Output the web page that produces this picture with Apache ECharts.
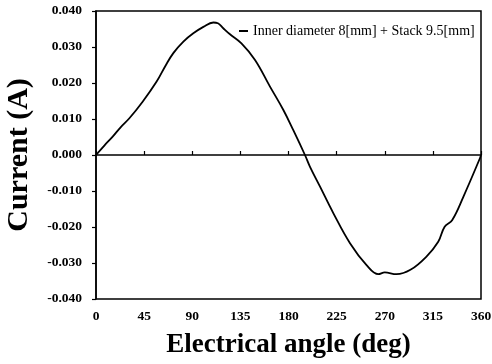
<!DOCTYPE html>
<html>
<head>
<meta charset="utf-8">
<script src="https://cdn.jsdelivr.net/npm/echarts@6/dist/echarts.min.js"></script>
<style>
  html, body { margin: 0; padding: 0; background: #fff; }
  #chart { width: 492px; height: 364px; }
</style>
</head>
<body>
<div id="chart"></div>
<script>
// electrical angle (deg) and current (A)
var angles = [0, 8, 15.6, 23, 31.2, 43.6, 56.7, 65, 72.3, 81.7, 91, 100.4, 109.7, 114, 119, 125, 136,
              148.7, 162.7, 175.2, 184.5, 195.4, 200, 209.5, 222, 237.5, 253, 264, 270, 281, 294,
              309, 320, 326, 333, 343.5, 359, 360];
var current = [0, 0.0027, 0.0051, 0.0077, 0.0102, 0.0148, 0.0204, 0.0248, 0.0283, 0.0315, 0.0338, 0.0356,
               0.0368, 0.0366, 0.0352, 0.0336, 0.0310, 0.0264, 0.0190, 0.0125, 0.0069, 0, -0.0032,
               -0.0088, -0.0162, -0.0245, -0.0306, -0.0331, -0.0326, -0.0331, -0.0319, -0.0282,
               -0.0241, -0.0199, -0.0181, -0.0116, -0.0009, 0];
var seriesName = 'Inner diameter 8[mm] + Stack 9.5[mm]';
var xTitle = 'Electrical angle (deg)';
var yTitle = 'Current (A)';

var serif = '"Liberation Serif", "Times New Roman", serif';

var points = angles.map(function (a, i) { return [a, current[i]]; });

var myChart = echarts.init(document.getElementById('chart'));
var option = {
    animation: false,
    legend: {
        data: [seriesName],
        left: 239,
        top: 24,
        padding: 0,
        icon: 'rect',
        itemWidth: 9,
        itemHeight: 2,
        textStyle: { fontFamily: serif, fontSize: 14, color: '#000' }
    },
    grid: {
        left: 96,
        right: 11,
        top: 11,
        bottom: 65,
        outerBoundsMode: 'none',
        containLabel: false,
        show: true,
        borderColor: '#000',
        borderWidth: 1.5
    },
    xAxis: [
        {
            type: 'value',
            position: 'bottom',
            min: 0,
            max: 360,
            interval: 45,
            name: xTitle,
            nameLocation: 'middle',
            nameGap: 33,
            nameTextStyle: { fontFamily: serif, fontSize: 27, fontWeight: 'bold', color: '#000' },
            axisLine: { show: false, onZero: false },
            axisTick: { show: false },
            splitLine: { show: false },
            axisLabel: { fontFamily: serif, fontSize: 13.5, fontWeight: 'bold', color: '#000', margin: 11 }
        },
        {
            type: 'value',
            position: 'bottom',
            min: 0,
            max: 360,
            interval: 45,
            axisLine: { show: true, onZero: true, onZeroAxisIndex: 0, lineStyle: { color: '#000', width: 1.5 } },
            axisTick: { show: true, inside: true, length: 4, lineStyle: { color: '#000', width: 1.2 } },
            axisLabel: { show: false },
            splitLine: { show: false }
        }
    ],
    yAxis: {
        type: 'value',
        min: -0.04,
        max: 0.04,
        interval: 0.01,
        name: yTitle,
        nameLocation: 'middle',
        nameGap: 62,
        nameTextStyle: { fontFamily: serif, fontSize: 30, fontWeight: 'bold', color: '#000' },
        axisLine: { show: true, lineStyle: { color: '#000', width: 1.5 } },
        axisTick: { show: true, length: 4, lineStyle: { color: '#000', width: 1.2 } },
        splitLine: { show: false },
        axisLabel: {
            fontFamily: serif, fontSize: 13.5, fontWeight: 'bold', color: '#000', margin: 14,
            formatter: function (v) { return v.toFixed(3); }
        }
    },
    series: [
        {
            name: seriesName,
            type: 'line',
            xAxisIndex: 0,
            data: points,
            smooth: 0.4,
            symbol: 'none',
            lineStyle: { color: '#000', width: 1.8 },
            itemStyle: { color: '#000' }
        }
    ]
};
myChart.setOption(option);
</script>
</body>
</html>
